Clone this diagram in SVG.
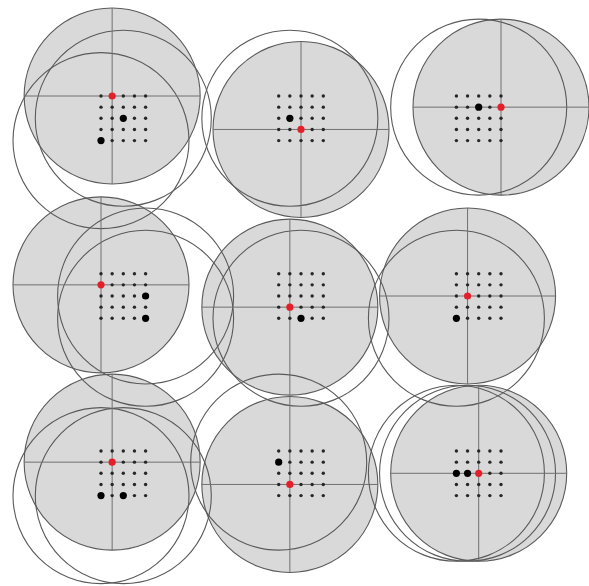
<svg xmlns="http://www.w3.org/2000/svg" xmlns:xlink="http://www.w3.org/1999/xlink" width="589" height="586" viewBox="0 0 589 586">
<style>
.fill{fill:#d9d9d9;stroke:#5a5a5a;stroke-width:1.1}
.ring{fill:none;stroke:#5a5a5a;stroke-width:1.1}
.cross{stroke:#707070;stroke-width:1;fill:none}
.dot{fill:#262626}
.red{fill:#e3202a}
.blk{fill:#000}
</style>
<defs>
<g id="grid" class="dot">
<circle cx="-22.3" cy="-22.3" r="1.7"/><circle cx="-11.15" cy="-22.3" r="1.7"/><circle cx="0" cy="-22.3" r="1.7"/><circle cx="11.15" cy="-22.3" r="1.7"/><circle cx="22.3" cy="-22.3" r="1.7"/>
<circle cx="-22.3" cy="-11.15" r="1.7"/><circle cx="-11.15" cy="-11.15" r="1.7"/><circle cx="0" cy="-11.15" r="1.7"/><circle cx="11.15" cy="-11.15" r="1.7"/><circle cx="22.3" cy="-11.15" r="1.7"/>
<circle cx="-22.3" cy="0" r="1.7"/><circle cx="-11.15" cy="0" r="1.7"/><circle cx="0" cy="0" r="1.7"/><circle cx="11.15" cy="0" r="1.7"/><circle cx="22.3" cy="0" r="1.7"/>
<circle cx="-22.3" cy="11.15" r="1.7"/><circle cx="-11.15" cy="11.15" r="1.7"/><circle cx="0" cy="11.15" r="1.7"/><circle cx="11.15" cy="11.15" r="1.7"/><circle cx="22.3" cy="11.15" r="1.7"/>
<circle cx="-22.3" cy="22.3" r="1.7"/><circle cx="-11.15" cy="22.3" r="1.7"/><circle cx="0" cy="22.3" r="1.7"/><circle cx="11.15" cy="22.3" r="1.7"/><circle cx="22.3" cy="22.3" r="1.7"/>
</g>
<path id="cross" class="cross" d="M-88,0H88M0,-88V88"/>
</defs>
<rect width="589" height="586" fill="#fff"/>
<g id="fills" class="fill">
<circle cx="112.15" cy="96" r="88"/>
<circle cx="301" cy="129.45" r="88"/>
<circle cx="501" cy="107.15" r="88"/>
<circle cx="101" cy="284.85" r="88"/>
<circle cx="289.85" cy="307.15" r="88"/>
<circle cx="467.55" cy="296" r="88"/>
<circle cx="112.15" cy="462.15" r="88"/>
<circle cx="289.85" cy="484.45" r="88"/>
<circle cx="478.7" cy="473.3" r="88"/>
</g>
<g id="p1" transform="translate(123.3,118.3)">
<circle class="ring" cx="0" cy="0" r="88"/><circle class="ring" cx="-22.3" cy="22.3" r="88"/>
<use href="#cross" x="-11.15" y="-22.3"/><use href="#grid"/>
<circle class="blk" cx="0" cy="0" r="3.6"/><circle class="blk" cx="-22.3" cy="22.3" r="3.6"/>
<circle class="red" cx="-11.15" cy="-22.3" r="3.6"/>
</g>
<g id="p2" transform="translate(301,118.3)">
<circle class="ring" cx="-11.15" cy="0" r="88"/>
<use href="#cross" x="0" y="11.15"/><use href="#grid"/>
<circle class="blk" cx="-11.15" cy="0" r="3.6"/>
<circle class="red" cx="0" cy="11.15" r="3.6"/>
</g>
<g id="p3" transform="translate(478.7,118.3)">
<circle class="ring" cx="0" cy="-11.15" r="88"/>
<use href="#cross" x="22.3" y="-11.15"/><use href="#grid"/>
<circle class="blk" cx="0" cy="-11.15" r="3.6"/>
<circle class="red" cx="22.3" cy="-11.15" r="3.6"/>
</g>
<g id="p4" transform="translate(123.3,296)">
<circle class="ring" cx="22.3" cy="0" r="88"/><circle class="ring" cx="22.3" cy="22.3" r="88"/>
<use href="#cross" x="-22.3" y="-11.15"/><use href="#grid"/>
<circle class="blk" cx="22.3" cy="0" r="3.6"/><circle class="blk" cx="22.3" cy="22.3" r="3.6"/>
<circle class="red" cx="-22.3" cy="-11.15" r="3.6"/>
</g>
<g id="p5" transform="translate(301,296)">
<circle class="ring" cx="0" cy="22.3" r="88"/>
<use href="#cross" x="-11.15" y="11.15"/><use href="#grid"/>
<circle class="blk" cx="0" cy="22.3" r="3.6"/>
<circle class="red" cx="-11.15" cy="11.15" r="3.6"/>
</g>
<g id="p6" transform="translate(478.7,296)">
<circle class="ring" cx="-22.3" cy="22.3" r="88"/>
<use href="#cross" x="-11.15" y="0"/><use href="#grid"/>
<circle class="blk" cx="-22.3" cy="22.3" r="3.6"/>
<circle class="red" cx="-11.15" cy="0" r="3.6"/>
</g>
<g id="p7" transform="translate(123.3,473.3)">
<circle class="ring" cx="-22.3" cy="22.3" r="88"/><circle class="ring" cx="0" cy="22.3" r="88"/>
<use href="#cross" x="-11.15" y="-11.15"/><use href="#grid"/>
<circle class="blk" cx="-22.3" cy="22.3" r="3.6"/><circle class="blk" cx="0" cy="22.3" r="3.6"/>
<circle class="red" cx="-11.15" cy="-11.15" r="3.6"/>
</g>
<g id="p8" transform="translate(301,473.3)">
<circle class="ring" cx="-22.3" cy="-11.15" r="88"/>
<use href="#cross" x="-11.15" y="11.15"/><use href="#grid"/>
<circle class="blk" cx="-22.3" cy="-11.15" r="3.6"/>
<circle class="red" cx="-11.15" cy="11.15" r="3.6"/>
</g>
<g id="p9" transform="translate(478.7,473.3)">
<circle class="ring" cx="-22.3" cy="0" r="88"/><circle class="ring" cx="-11.15" cy="0" r="88"/>
<use href="#cross" x="0" y="0"/><use href="#grid"/>
<circle class="blk" cx="-22.3" cy="0" r="3.6"/><circle class="blk" cx="-11.15" cy="0" r="3.6"/>
<circle class="red" cx="0" cy="0" r="3.6"/>
</g>
</svg>
